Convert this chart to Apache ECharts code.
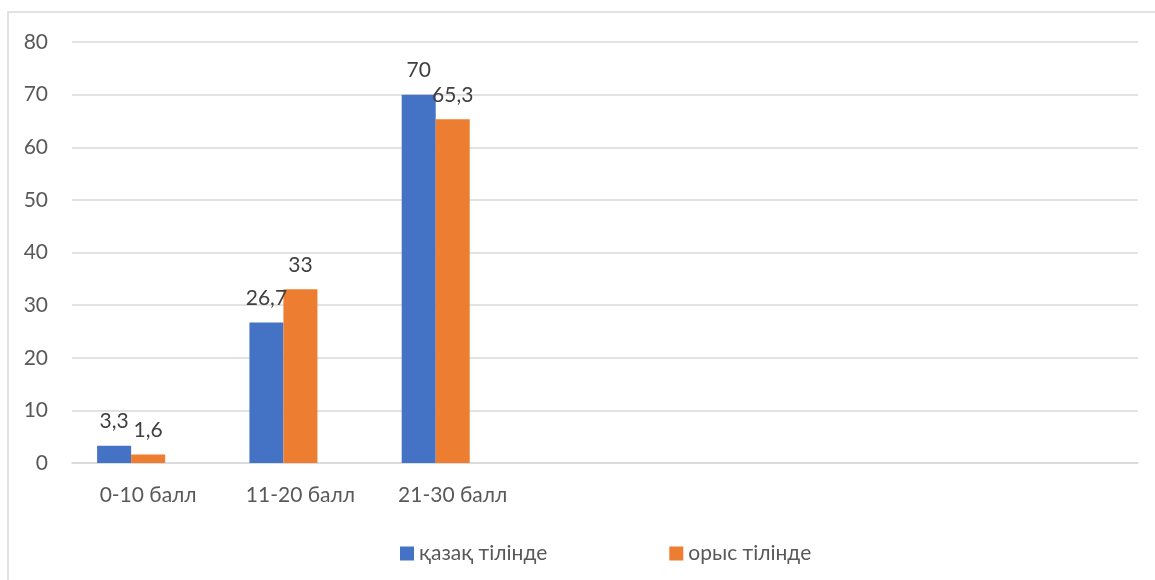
<!DOCTYPE html>
<html><head><meta charset="utf-8">
<script src="https://cdn.jsdelivr.net/npm/echarts@6/dist/echarts.min.js"></script>
<style>html,body{margin:0;padding:0;background:#fff}#c{width:1155px;height:580px}</style>
</head><body><div id="c"></div>
<script>
const categories = ['0-10 балл', '11-20 балл', '21-30 балл', '', '', '', ''];
const seriesNames = ['қазақ тілінде', 'орыс тілінде'];
const kazakh = [3.3, 26.7, 70, null, null, null, null];
const russian = [1.6, 33, 65.3, null, null, null, null];
const emptySeries = [null, null, null, null, null, null, null];
const yTicks = { min: 0, max: 80, interval: 10 };

const FONT = 'Lato, "Noto Sans", sans-serif';
const chart = echarts.init(document.getElementById('c'));
const lbl = {
  show: true, position: 'top', distance: 14,
  color: '#404040', fontSize: 21, fontFamily: FONT,
  formatter: p => (p.value == null ? '' : String(p.value).replace('.', ','))
};
chart.setOption({
  animation: false,
  textStyle: { fontFamily: FONT },
  graphic: [{
    type: 'rect', shape: { x: 8, y: 12, width: 1300, height: 700 },
    style: { fill: 'none', stroke: '#d9d9d9', lineWidth: 1.5 }, silent: true
  }],
  grid: { left: 72, right: 17, top: 42, bottom: 117 },
  legend: {
    data: seriesNames, top: 538, left: 395, itemGap: 122, itemTextGap: 6,
    itemWidth: 14, itemHeight: 14, icon: 'rect',
    textStyle: { color: '#595959', fontSize: 21, fontFamily: FONT }
  },
  xAxis: {
    type: 'category', data: categories,
    axisLine: { lineStyle: { color: '#d9d9d9', width: 1.5 } },
    axisTick: { show: false },
    axisLabel: { color: '#595959', fontSize: 21, fontFamily: FONT, margin: 22, interval: 0 }
  },
  yAxis: {
    type: 'value', min: yTicks.min, max: yTicks.max, interval: yTicks.interval,
    axisLine: { show: false }, axisTick: { show: false },
    splitLine: { lineStyle: { color: '#d9d9d9', width: 1.5 } },
    axisLabel: { color: '#595959', fontSize: 21, fontFamily: FONT, margin: 24 }
  },
  series: [
    { name: seriesNames[0], type: 'bar', data: kazakh, barGap: '0%', barCategoryGap: '33%',
      itemStyle: { color: '#4472C4' }, label: lbl },
    { name: seriesNames[1], type: 'bar', data: russian,
      itemStyle: { color: '#ED7D31' }, label: lbl },
    { name: 'empty', type: 'bar', data: emptySeries, itemStyle: { color: '#A5A5A5' } }
  ]
});
</script></body></html>
